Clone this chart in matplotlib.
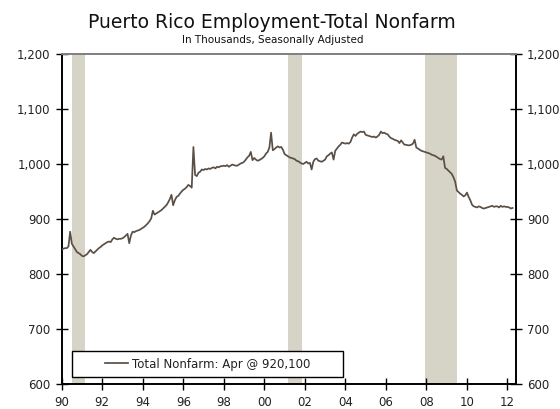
import numpy as np
import pandas as pd
import matplotlib
matplotlib.use("Agg")
import matplotlib.pyplot as plt
from matplotlib.patches import Rectangle
from matplotlib.ticker import FuncFormatter

# Puerto Rico total nonfarm employment, thousands, SA, monthly Jan-1990 .. Apr-2012
nonfarm = [
    844, 846, 847, 847, 850, 877, 855, 850, 845, 840, 838, 836,  # 1990
    833, 832, 834, 836, 840, 844, 840, 838, 841, 844, 847, 849,  # 1991
    852, 854, 856, 858, 859, 858, 863, 866, 864, 863, 864, 864,  # 1992
    865, 867, 870, 873, 856, 870, 877, 876, 878, 879, 880, 882,  # 1993
    884, 886, 889, 892, 896, 901, 915, 908, 910, 912, 914, 916,  # 1994
    919, 922, 925, 930, 936, 944, 925, 934, 940, 942, 946, 950,  # 1995
    953, 955, 958, 962, 960, 957, 1031, 980, 978, 984, 986, 990,  # 1996
    989, 991, 990, 992, 991, 993, 994, 992, 995, 994, 996, 996,  # 1997
    997, 996, 998, 995, 997, 999, 998, 997, 997, 999, 1001, 1002,  # 1998
    1004, 1008, 1012, 1015, 1022, 1007, 1011, 1008, 1006, 1007, 1009, 1011,  # 1999
    1014, 1019, 1022, 1030, 1057, 1025, 1027, 1030, 1032, 1030, 1031, 1026,  # 2000
    1018, 1016, 1014, 1012, 1011, 1010, 1009, 1006, 1005, 1003, 1001, 1000,  # 2001
    1002, 1004, 1001, 1002, 990, 1004, 1009, 1010, 1006, 1005, 1004, 1006,  # 2002
    1008, 1014, 1016, 1019, 1021, 1008, 1024, 1028, 1032, 1035, 1039, 1038,  # 2003
    1037, 1038, 1037, 1040, 1048, 1054, 1051, 1055, 1057, 1059, 1058, 1059,  # 2004
    1053, 1052, 1051, 1050, 1049, 1050, 1048, 1050, 1053, 1059, 1056, 1057,  # 2005
    1055, 1054, 1050, 1047, 1046, 1044, 1043, 1042, 1038, 1043, 1039, 1035,  # 2006
    1035, 1034, 1034, 1035, 1037, 1044, 1030, 1028, 1026, 1024, 1023, 1022,  # 2007
    1021, 1020, 1019, 1017, 1016, 1015, 1013, 1011, 1009, 1008, 1014, 993,  # 2008
    991, 988, 985, 982, 976, 968, 952, 949, 946, 944, 941, 943,  # 2009
    948, 940, 934, 926, 923, 922, 921, 923, 922, 920, 919, 920,  # 2010
    921, 922, 923, 924, 922, 923, 923, 921, 924, 922, 923, 922,  # 2011
    922, 921, 919, 920.1,  # 2012
]

# recessions (decimal years)
recessions = [(1990.5, 1991.17), (2001.17, 2001.88), (2007.92, 2009.5)]

y_ticks = [600, 700, 800, 900, 1000, 1100, 1200]
x_ticks = list(range(1990, 2013, 2))
legend_label = "Total Nonfarm: Apr @ 920,100"

dates = pd.date_range("1990-01-01", periods=len(nonfarm), freq="MS")
t = dates.year + (dates.month - 1) / 12.0

LINE = "#5b4f45"
SHADE = "#d6d3c7"

fig = plt.figure(figsize=(5.6, 4.09), dpi=100)
ax = fig.add_axes([61.7 / 560, 25 / 409, 454.3 / 560, 330 / 409])

for a, b in recessions:
    ax.axvspan(a, b, color=SHADE, lw=0, zorder=0)

ax.plot(t, nonfarm, color=LINE, lw=1.25, zorder=3)

ax.set_xlim(1990, 2012.42)
ax.set_ylim(600, 1200)
ax.set_yticks(y_ticks)
ax.set_xticks(x_ticks)
ax.xaxis.set_major_formatter(FuncFormatter(lambda v, p: "%02d" % (int(round(v)) % 100)))
ax.yaxis.set_major_formatter(FuncFormatter(lambda v, p: f"{int(v):,}"))

for s in ("left", "right", "bottom"):
    ax.spines[s].set_color("black")
    ax.spines[s].set_linewidth(1.4)
ax.spines["top"].set_color("#7f7f7f")
ax.spines["top"].set_linewidth(1.4)

ax.tick_params(axis="y", which="both", direction="inout", length=8, width=1,
               left=True, right=True, labelleft=True, labelright=True,
               labelsize=8.5, pad=4, labelcolor="#222222")
ax.tick_params(axis="x", direction="inout", length=8, width=1, top=False,
               labelsize=8.5, pad=5, labelcolor="#222222")

# legend box
box_x0, box_y0, box_w, box_h = 0.0227, 0.021, 0.597, 0.079
ax.add_patch(Rectangle((box_x0, box_y0), box_w, box_h, transform=ax.transAxes,
                       facecolor="white", edgecolor="black", lw=1, zorder=4))
h, = ax.plot([], [], color=LINE, lw=1.25, label=legend_label)
ax.legend(handles=[h], loc="center", bbox_to_anchor=(box_x0 + box_w / 2, box_y0 + box_h / 2),
          frameon=False, fontsize=8.5, handlelength=2.0, handletextpad=0.3,
          labelcolor="#222222").set_zorder(5)

fig.text(0.485, 1 - 28 / 409, "Puerto Rico Employment-Total Nonfarm", ha="center",
         va="baseline", fontsize=13.5, color="#111111")
fig.text(0.487, 1 - 43 / 409, "In Thousands, Seasonally Adjusted", ha="center",
         va="baseline", fontsize=7.5, color="#111111")

fig.savefig("out.png", dpi=100)
